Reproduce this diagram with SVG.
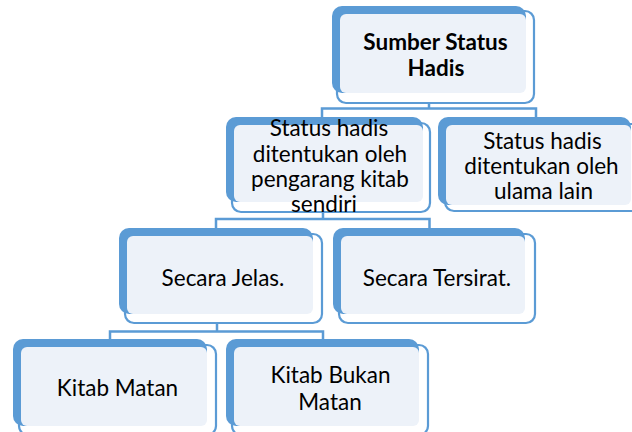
<svg xmlns="http://www.w3.org/2000/svg" width="632" height="432" viewBox="0 0 632 432">
  <style>
    .frame { fill: #ffffff; stroke: #5B9BD5; stroke-width: 2.2; }
    .back { fill: #5B9BD5; }
    .face { fill: #EDF2F9; }
    .conn { fill: none; stroke: #5B9BD5; stroke-width: 2.5; }
    .faint { fill: none; stroke: #C9DCF0; stroke-width: 2.5; }
    .t { font-family: Lato, "Liberation Sans", sans-serif; font-size: 22.5px; fill: #000000; text-anchor: middle; }
    .b { font-weight: bold; }
  </style>
  <rect width="632" height="432" fill="#ffffff"/>

  <g id="connectors">
    <line class="faint" x1="429" y1="93" x2="429" y2="102"/>
    <polyline class="conn" points="429,102 429,108.5"/>
    <polyline class="conn" points="322,117 322,108.5 536,108.5 536,117"/>
    <polyline class="conn" points="323,212 323,219"/>
    <polyline class="conn" points="216,228 216,219 429.5,219 429.5,228"/>
    <line class="faint" x1="217" y1="314" x2="217" y2="323"/>
    <polyline class="conn" points="217,323 217,331.5"/>
    <polyline class="conn" points="110,339 110,331.5 323,331.5 323,339"/>
  </g>

  <g id="root">
    <rect class="frame" x="337" y="11" width="197" height="92" rx="9"/>
    <rect class="back" x="332" y="6" width="194" height="87" rx="10"/>
    <rect class="face" x="340" y="14" width="186" height="79" rx="6"/>
    <text class="t b" x="435.5" y="50">Sumber Status</text>
    <text class="t b" x="436" y="76">Hadis</text>
  </g>

  <g id="node-pengarang">
    <rect class="frame" x="232" y="123" width="198" height="89" rx="9"/>
    <rect class="back" x="226" y="117" width="197" height="85" rx="10"/>
    <rect class="face" x="234" y="125" width="189" height="77" rx="6"/>
    <text class="t" x="329" y="136">Status hadis</text>
    <text class="t" x="330" y="161.5">ditentukan oleh</text>
    <text class="t" x="330" y="187">pengarang kitab</text>
    <text class="t" x="324" y="212">sendiri</text>
  </g>

  <g id="node-ulama">
    <rect class="frame" x="445" y="124" width="200" height="87" rx="9"/>
    <rect class="back" x="438" y="117" width="193" height="88" rx="10"/>
    <rect class="face" x="446" y="125" width="185" height="80" rx="6"/>
    <text class="t" x="542.5" y="149">Status hadis</text>
    <text class="t" x="541.5" y="174">ditentukan oleh</text>
    <text class="t" x="543.5" y="199">ulama lain</text>
  </g>

  <g id="node-jelas">
    <rect class="frame" x="125" y="234" width="197" height="89" rx="9"/>
    <rect class="back" x="119" y="228" width="194" height="86" rx="10"/>
    <rect class="face" x="127" y="236" width="186" height="78" rx="6"/>
    <text class="t" x="223" y="286">Secara Jelas.</text>
  </g>

  <g id="node-tersirat">
    <rect class="frame" x="339" y="234" width="196" height="89" rx="9"/>
    <rect class="back" x="333" y="228" width="192" height="86" rx="10"/>
    <rect class="face" x="341" y="236" width="184" height="78" rx="6"/>
    <text class="t" x="437" y="285.5">Secara Tersirat.</text>
  </g>

  <g id="node-kitab-matan">
    <rect class="frame" x="19" y="345" width="197" height="90" rx="9"/>
    <rect class="back" x="13" y="339" width="194" height="87" rx="10"/>
    <rect class="face" x="21" y="347" width="186" height="79" rx="6"/>
    <text class="t" x="117.5" y="396">Kitab Matan</text>
  </g>

  <g id="node-kitab-bukan-matan">
    <rect class="frame" x="232" y="345" width="196" height="90" rx="9"/>
    <rect class="back" x="226" y="339" width="193" height="87" rx="10"/>
    <rect class="face" x="234" y="347" width="185" height="79" rx="6"/>
    <text class="t" x="330.5" y="383">Kitab Bukan</text>
    <text class="t" x="330" y="410">Matan</text>
  </g>
</svg>
